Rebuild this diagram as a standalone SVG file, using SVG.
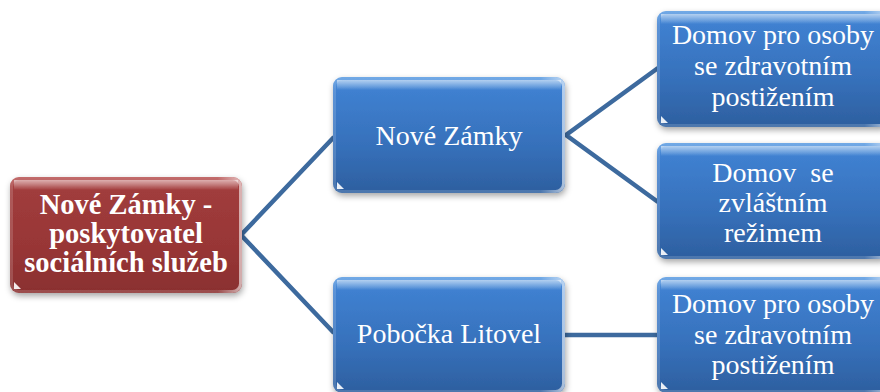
<svg xmlns="http://www.w3.org/2000/svg" width="880" height="392" viewBox="0 0 880 392">
<defs>
<linearGradient id="gBlue" x1="0" y1="0" x2="0" y2="1">
<stop offset="0" stop-color="#5a9be2"/>
<stop offset="0.12" stop-color="#3f80d0"/>
<stop offset="0.6" stop-color="#3670ba"/>
<stop offset="1" stop-color="#2d5f9f"/>
</linearGradient>
<linearGradient id="gRed" x1="0" y1="0" x2="0" y2="1">
<stop offset="0" stop-color="#b85252"/>
<stop offset="0.12" stop-color="#a03c3c"/>
<stop offset="0.6" stop-color="#983636"/>
<stop offset="1" stop-color="#8a2f2f"/>
</linearGradient>
<linearGradient id="gGloss" x1="0" y1="0" x2="0" y2="1">
<stop offset="0" stop-color="#ffffff" stop-opacity="0.55"/>
<stop offset="1" stop-color="#ffffff" stop-opacity="0"/>
</linearGradient>
<linearGradient id="gRim" x1="0" y1="0" x2="1" y2="0">
<stop offset="0" stop-color="#ffffff" stop-opacity="0.15"/>
<stop offset="0.9" stop-color="#ffffff" stop-opacity="0.15"/>
<stop offset="1" stop-color="#ffffff" stop-opacity="0.6"/>
</linearGradient>
<filter id="shadow" x="-10%" y="-10%" width="120%" height="130%">
<feDropShadow dx="1" dy="3" stdDeviation="3" flood-color="#000000" flood-opacity="0.35"/>
</filter>
</defs>
<style>
.blue{fill:url(#gBlue);filter:url(#shadow)}
.red{fill:url(#gRed);filter:url(#shadow)}
.rim{fill:none;stroke:url(#gRim);stroke-width:3}
.gloss{fill:url(#gGloss)}
.tri{fill:#ffffff;opacity:0.9}
.conn{fill:none;stroke:#3d6a9e;stroke-width:4.5;stroke-linejoin:miter}
.t{font-family:"Liberation Serif","Times New Roman",serif;font-size:28px;fill:#ffffff;text-anchor:middle}
.tb{font-family:"Liberation Serif","Times New Roman",serif;font-size:28.5px;font-weight:bold;fill:#ffffff;text-anchor:middle}
</style>
<rect width="880" height="392" fill="#ffffff"/>
<g id="connectors">
<polyline class="conn" points="334,137 241,235 334,333"/>
<polyline class="conn" points="658,68 566,135 658,202"/>
<line class="conn" x1="565" y1="335" x2="658" y2="335" stroke-width="6"/>
</g>
<g id="root">
<rect class="red" x="10" y="177" width="232" height="116" rx="9"/>
<rect class="rim" x="11.5" y="178.5" width="229" height="113" rx="8"/>
<path class="gloss" d="M14,180 h224 a6,6 0 0 1 0,0 v10 h-224 z"/>
<path class="tri" d="M14,289 v-7 l7,7 z"/>
<text class="tb" x="126" y="214">Nové Zámky -</text>
<text class="tb" x="126" y="243">poskytovatel</text>
<text class="tb" x="126" y="272">sociálních služeb</text>
</g>
<g id="nove-zamky">
<rect class="blue" x="333" y="77" width="232" height="116" rx="9"/>
<rect class="rim" x="334.5" y="78.5" width="229" height="113" rx="8"/>
<path class="gloss" d="M337,80 h224 v10 h-224 z"/>
<path class="tri" d="M337,189 v-7 l7,7 z"/>
<text class="t" x="449" y="145">Nové Zámky</text>
</g>
<g id="pobocka-litovel">
<rect class="blue" x="333" y="277" width="232" height="116" rx="9"/>
<rect class="rim" x="334.5" y="278.5" width="229" height="113" rx="8"/>
<path class="gloss" d="M337,280 h224 v10 h-224 z"/>
<path class="tri" d="M337,389 v-7 l7,7 z"/>
<text class="t" x="449" y="343">Pobočka Litovel</text>
</g>
<g id="domov-zdravotni-1">
<rect class="blue" x="657" y="11" width="232" height="116" rx="9"/>
<rect class="rim" x="658.5" y="12.5" width="229" height="113" rx="8"/>
<path class="gloss" d="M661,14 h224 v10 h-224 z"/>
<path class="tri" d="M661,123 v-7 l7,7 z"/>
<text class="t" x="773" y="44">Domov pro osoby</text>
<text class="t" x="773" y="75">se zdravotním</text>
<text class="t" x="773" y="106">postižením</text>
</g>
<g id="domov-zvlastni">
<rect class="blue" x="657" y="143" width="232" height="116" rx="9"/>
<rect class="rim" x="658.5" y="144.5" width="229" height="113" rx="8"/>
<path class="gloss" d="M661,146 h224 v10 h-224 z"/>
<path class="tri" d="M661,255 v-7 l7,7 z"/>
<text class="t" x="773" y="182" xml:space="preserve">Domov  se</text>
<text class="t" x="773" y="212">zvláštním</text>
<text class="t" x="773" y="242">režimem</text>
</g>
<g id="domov-zdravotni-2">
<rect class="blue" x="657" y="277" width="232" height="116" rx="9"/>
<rect class="rim" x="658.5" y="278.5" width="229" height="113" rx="8"/>
<path class="gloss" d="M661,280 h224 v10 h-224 z"/>
<path class="tri" d="M661,389 v-7 l7,7 z"/>
<text class="t" x="773" y="313">Domov pro osoby</text>
<text class="t" x="773" y="344">se zdravotním</text>
<text class="t" x="773" y="374">postižením</text>
</g>
</svg>
